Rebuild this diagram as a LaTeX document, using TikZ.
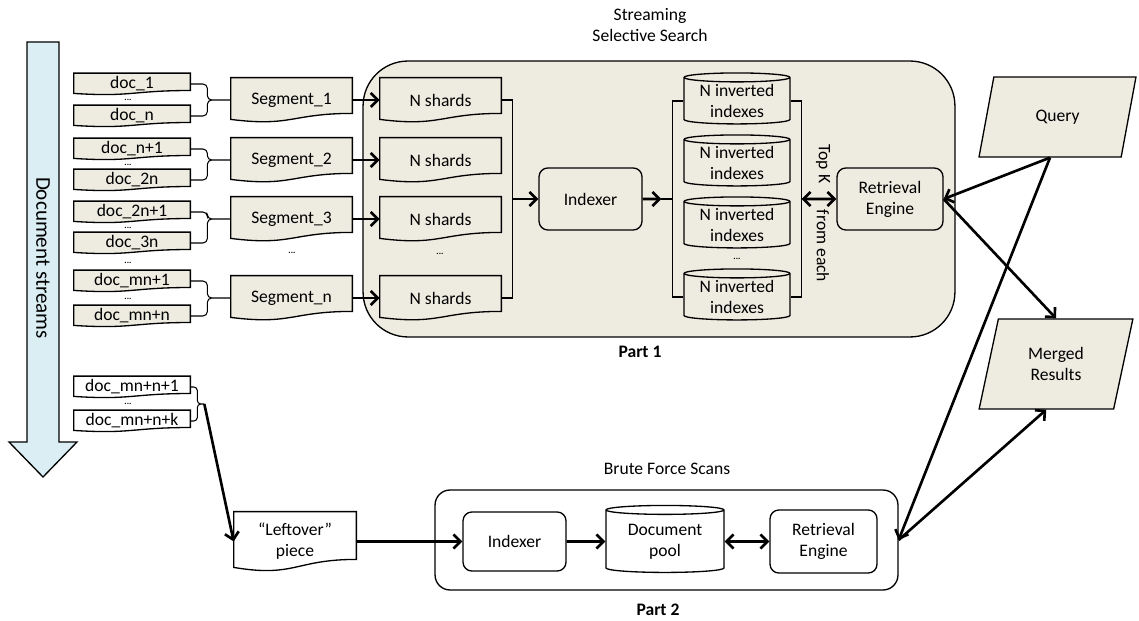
\documentclass[tikz,border=0pt]{standalone}
\usepackage{fontspec}
\setmainfont{Carlito}
\usetikzlibrary{arrows.meta,calc,shapes.geometric,backgrounds}
\definecolor{boxfill}{HTML}{EEECE1}
\definecolor{streamblue}{HTML}{DAEEF3}
\tikzset{
  thinline/.style={line width=0.75pt},
  bracket/.style={line width=0.6pt},
  arr/.style={line width=1.5pt,-{Straight Barb[length=4pt,width=8pt]}},
  dblarr/.style={line width=1.5pt,{Straight Barb[length=4pt,width=8pt]}-{Straight Barb[length=4pt,width=8pt]}},
  docbox/.style={minimum width=2.32cm,minimum height=0.42cm,inner sep=0pt},
  segbox/.style={minimum width=2.42cm,minimum height=0.88cm,inner sep=0pt},
  rbox/.style={draw,thinline,rounded corners=5pt,align=center,inner sep=0pt},
  db/.style={cylinder,shape border rotate=90,aspect=0.12,draw,thinline,fill=boxfill,align=center,inner sep=0pt},
  slant/.style={trapezium,trapezium left angle=76,trapezium right angle=104,trapezium stretches=true,draw,thinline,fill=boxfill,align=center},
  dots/.style={font=\tiny\bfseries,inner sep=0pt}
}
% document shape with a wavy bottom, drawn round a node
\newcommand\wavyshape[2][boxfill]{%
  \draw[thinline,fill=#1] let \p1=(#2.north west), \p2=(#2.south east) in
    (\p1) -- (\x2,\y1) -- (\x2,{\y1+0.8*(\y2-\y1)})
    .. controls ({(\x1+\x2)/2},{\y1+0.8*(\y2-\y1)}) and ({(\x1+\x2)/2},{\y1+1.107*(\y2-\y1)}) .. (\x1,{\y1+0.934*(\y2-\y1)}) -- cycle;}

\begin{document}
\begin{tikzpicture}[x=0.02cm,y=-0.02cm]
\useasboundingbox (0,0) rectangle (1139,621);
% stream arrow
\filldraw[fill=streamblue,thinline] (27,42) -- (59,42) -- (59,442) -- (77,442) -- (43,477) -- (9,442) -- (27,442) -- cycle;
\node[rotate=-90,font=\large] (ds) at (43,258) {Document streams};

% part 1
\begin{scope}[on background layer]
\node[draw,thinline,fill=boxfill,rounded corners=0.9cm,minimum width=11.84cm,minimum height=5.52cm] (p1) at (659,199) {};
\end{scope}
\node[align=center] (t1) at (650,25) {Streaming\\Selective Search};
\node[font=\bfseries] (pt1) at (640,352) {Part 1};

\foreach \i/\y/\t in {1/84/doc\_1,2/116/doc\_n,3/149/doc\_n+1,4/180/doc\_2n,5/212/doc\_2n+1,6/243/doc\_3n,7/281/doc\_mn+1,8/316/doc\_mn+n}
  \node[docbox] (d\i) at (132,\y) {\t};
\foreach \i/\y in {1/100,2/165,3/228,4/263,5/299,6/404}
  \node[dots] (dd\i) at (128,\y) {...};
\node[docbox] (e1) at (132,387) {doc\_mn+n+1};
\node[docbox] (e2) at (132,421) {doc\_mn+n+k};

\foreach \i/\y/\t in {1/100/1,2/160/2,3/219/3,4/298/n}
  \node[segbox] (s\i) at (291.5,\y) {Segment\_\t};
\foreach \i/\y in {1/100,2/160,3/219,4/298}
  \node[segbox] (h\i) at (440.5,\y) {N shards};
\node[dots] (sd) at (292,253) {...};
\node[dots] (hd) at (440,254) {...};

\node[rbox,fill=boxfill,minimum width=2.06cm,minimum height=1.24cm] (idx) at (590.5,199) {Indexer};
\foreach \i/\y in {1/101,2/163,3/225,4/297}
  \node[db,minimum width=2.12cm,minimum height=1.02cm] (c\i) at (737,\y) {N inverted\\indexes};
\node[dots] (cd) at (737,259) {...};
\node[rbox,fill=boxfill,minimum width=2.12cm,minimum height=1.24cm] (re) at (890,199) {Retrieval\\Engine};
\node[rotate=-90] (tk1) at (823,164) {Top K};
\node[rotate=-90] (tk2) at (823,246) {from each};

\node[slant,minimum width=3.14cm,minimum height=1.6cm] (qry) at (1057.5,117) {Query};
\node[slant,minimum width=3.08cm,minimum height=1.8cm] (mrg) at (1056,364) {Merged\\Results};

% part 2
\node[draw,thinline,rounded corners=0.3cm,minimum width=9.26cm,minimum height=2cm] (p2) at (666.5,540) {};
\node (t2) at (667,469) {Brute Force Scans};
\node[font=\bfseries] (pt2) at (658,610) {Part 2};
\node[segbox,align=center,minimum width=2.44cm,minimum height=1.18cm] (lft) at (295,541.5) {“Leftover”\\piece};
\node[rbox,minimum width=2.06cm,minimum height=1.18cm] (idx2) at (514.5,541.5) {Indexer};
\node[db,fill=none,minimum width=2.36cm,minimum height=1.34cm] (pool) at (665,541.5) {Document\\pool};
\node[rbox,minimum width=2.14cm,minimum height=1.26cm] (re2) at (823.5,541.5) {Retrieval\\Engine};

\begin{scope}[on background layer]
\foreach \i in {1,...,8} \wavyshape{d\i};
\foreach \i in {1,...,4} {\wavyshape{s\i} \wavyshape{h\i}}
\wavyshape[white]{e1}
\wavyshape[white]{e2}
\wavyshape[white]{lft}
\end{scope}

% braces and brackets
\foreach \a/\b/\s in {d1/d2/s1,d3/d4/s2,d5/d6/s3,d7/d8/s4}
  \draw[bracket,rounded corners=2.5pt] (\a.east) -- ++(17,0) |- (\s.west) (\b.east) -- ++(17,0) |- (\s.west);
\coordinate (lb) at ($(e1.east)!0.5!(e2.east)+(14,0)$);
\draw[bracket,rounded corners=2pt] (e1.east) -- ++(7,0) |- (lb) (e2.east) -- ++(7,0) |- (lb);
\draw[bracket] (h1.east) -- ++(11,0) |- (h4.east);
\coordinate (hb) at ($(h1.east)!0.5!(h4.east)+(11,0)$);
\draw[bracket] (c1.west) -- ++(-11,0) |- (c4.west);
\draw[bracket] (c1.east) -- ++(11,0) |- (c4.east);
\coordinate (cl) at ($(c1.west)!0.5!(c4.west)+(-11,0)$);
\coordinate (cr) at ($(c1.east)!0.5!(c4.east)+(11,0)$);
\coordinate (ctip) at ($(cl)+(-11,0)$);

% arrows
\foreach \i in {1,...,4} \draw[arr] (s\i.east) -- (h\i.west);
\draw[arr] (hb) -- (idx);
\draw[arr] (idx.east) -- (ctip);
\draw[bracket] (ctip) -- (cl);
\draw[dblarr] (cr) -- (re);
\draw[arr] (qry.bottom side) -- (re.east);
\draw[arr] (re.east) -- (mrg.north);
\draw[arr] (qry.bottom side) -- (p2.east);
\draw[arr] (p2.east) -- (mrg.bottom side);
\draw[arr] (lb) -- (lft.west);
\draw[arr] (lft) -- (idx2);
\draw[arr] (idx2) -- (pool);
\draw[dblarr] (pool) -- (re2);
\end{tikzpicture}
\end{document}
